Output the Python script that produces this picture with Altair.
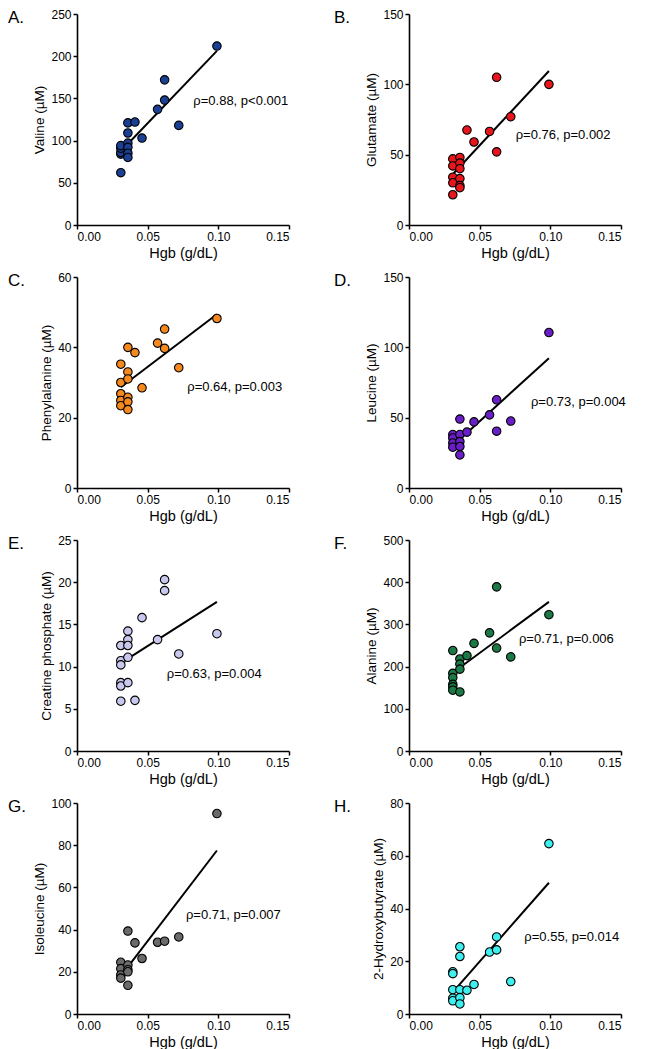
import altair as alt
import pandas as pd

FONT = "Liberation Sans"

# ---- data ----
letters = ["A.", "B.", "C.", "D.", "E.", "F.", "G.", "H."]
y_titles = ["Valine (µM)", "Glutamate (µM)", "Phenylalanine (µM)", "Leucine (µM)",
            "Creatine phosphate (µM)", "Alanine (µM)", "Isoleucine (µM)",
            "2-Hydroxybutyrate (µM)"]
colors = ["#1B3F93", "#E8161C", "#F5891F", "#6A1EC8", "#C8C8EE", "#1C7845", "#6A6A6A", "#3EEFEF"]
y_max = [250, 150, 60, 150, 25, 500, 100, 80]
y_step = [50, 50, 20, 50, 5, 100, 20, 20]
notes = ["ρ=0.88, p<0.001", "ρ=0.76, p=0.002", "ρ=0.64, p=0.003", "ρ=0.73, p=0.004",
         "ρ=0.63, p=0.004", "ρ=0.71, p=0.006", "ρ=0.71, p=0.007", "ρ=0.55, p=0.014"]
note_x = [0.0823, 0.0755, 0.078, 0.0863, 0.0635, 0.0778, 0.0771, 0.0816]
note_y = [142, 61, 27.5, 58.6, 8.6, 255.5, 45.1, 27.6]
x_ticks = [0.0, 0.05, 0.10, 0.15]

hgb_a = [0.031] * 5 + [0.036] * 6 + [0.041, 0.046, 0.057, 0.062, 0.062, 0.072, 0.099]
valine = [62, 84, 86, 91, 94, 121, 109, 97, 92, 85, 80, 122, 103, 137, 172, 148, 118, 212]

hgb_b = [0.031] * 5 + [0.036] * 6 + [0.041, 0.046, 0.057, 0.062, 0.062, 0.072, 0.099]
glutamate = [47, 42, 34, 30, 21.5, 48, 44, 40, 33, 28, 26.5, 67.5, 59, 66.5, 105, 52, 77, 100]

hgb_c = [0.031] * 5 + [0.036] * 6 + [0.041, 0.046, 0.057, 0.062, 0.062, 0.072, 0.099]
phenylalanine = [35.2, 30, 26.8, 24.9, 23.4, 40, 33, 31, 25.8, 24.5, 22.3, 38.5, 28.5, 41.2, 45.2, 39.7, 34.2, 48.2]

hgb_d = [0.031] * 4 + [0.036] * 5 + [0.041, 0.046, 0.057, 0.062, 0.062, 0.072, 0.099]
leucine = [38, 35.5, 32, 29, 49, 38, 33, 29.5, 23.5, 39.7, 47, 52, 62.7, 40.4, 47.6, 110.5]

hgb_e = [0.031] * 6 + [0.036] * 5 + [0.041, 0.046, 0.057, 0.062, 0.062, 0.072, 0.099]
creatine_p = [12.5, 10.7, 10.2, 8.1, 7.7, 5.9, 14.2, 13.2, 12.5, 11.1, 8.1, 6.0, 15.8, 13.2, 20.3, 19.0, 11.5, 13.9]

hgb_f = [0.031] * 6 + [0.036] * 4 + [0.041, 0.046, 0.057, 0.062, 0.062, 0.072, 0.099]
alanine = [238, 184, 174, 158, 152, 144, 218, 206, 194, 140, 226, 255, 280, 389, 244, 223, 323]

hgb_g = [0.031] * 4 + [0.036] * 5 + [0.041, 0.046, 0.057, 0.062, 0.072, 0.099]
isoleucine = [24.5, 21.5, 18.5, 17, 39.3, 23.2, 21, 20, 13.6, 33.7, 26.3, 34, 34.5, 36.5, 95]

hgb_h = [0.031] * 5 + [0.036] * 5 + [0.041, 0.046, 0.057, 0.062, 0.062, 0.072, 0.099]
hydroxybutyrate = [16, 15.3, 9.2, 6, 5, 25.5, 21.8, 9.2, 6.2, 3.8, 9, 11.2, 23.5, 29.2, 24.3, 12.3, 64.6]

xs_all = [hgb_a, hgb_b, hgb_c, hgb_d, hgb_e, hgb_f, hgb_g, hgb_h]
ys_all = [valine, glutamate, phenylalanine, leucine, creatine_p, alanine, isoleucine, hydroxybutyrate]

W, H = 212, 211


def panel(i):
    df = pd.DataFrame({"x": xs_all[i], "y": ys_all[i]})
    xenc = alt.X("x:Q", scale=alt.Scale(domain=[0, 0.15], nice=False, zero=True),
                 axis=alt.Axis(values=x_ticks, format=".2f", title="Hgb (g/dL)"))
    yenc = alt.Y("y:Q", scale=alt.Scale(domain=[0, y_max[i]], nice=False),
                 axis=alt.Axis(values=list(range(0, y_max[i] + 1, y_step[i])), title=y_titles[i]))
    base = alt.Chart(df)
    line = base.transform_regression("x", "y").mark_line(color="black", strokeWidth=2).encode(x=xenc, y=yenc)
    pts = base.mark_circle(size=72, color=colors[i], opacity=1, stroke="black", strokeWidth=1.1).encode(x=xenc, y=yenc)
    note = alt.Chart(pd.DataFrame({"x": [note_x[i]], "y": [note_y[i]], "t": [notes[i]]})).mark_text(
        align="left", baseline="alphabetic", fontSize=13, font=FONT, color="black"
    ).encode(x=xenc, y=yenc, text="t:N")
    off = -69 if i % 2 == 0 else -75
    letter = alt.Chart(pd.DataFrame({"t": [letters[i]]})).mark_text(
        align="left", baseline="top", fontSize=17, font=FONT, color="black"
    ).encode(x=alt.value(off), y=alt.value(-4), text="t:N")
    return alt.layer(line, pts, note, letter).properties(width=W, height=H)


rows = [alt.hconcat(panel(2 * r), panel(2 * r + 1), spacing=44) for r in range(4)]
chart = alt.vconcat(*rows, spacing=11).properties(padding=0).configure_view(stroke=None).configure_axis(
    grid=False, domainColor="black", domainWidth=1.6, tickColor="black", tickWidth=1.5, tickSize=4,
    labelFont=FONT, titleFont=FONT, labelFontSize=12, titleFontSize=13.5, labelColor="black",
    titleColor="black", titleFontWeight="normal", labelPadding=2, titlePadding=4,
).configure_axisX(titleFontSize=14.5)

chart.save("out.html", embed_options={"renderer": "svg", "actions": False})
